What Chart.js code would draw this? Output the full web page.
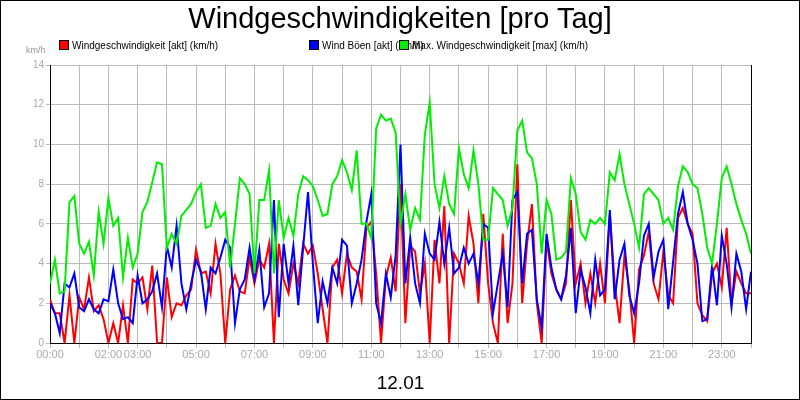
<!DOCTYPE html>
<html>
<head>
<meta charset="utf-8">
<script src="https://cdn.jsdelivr.net/npm/chart.js@4/dist/chart.umd.min.js"></script>
<style>
  html, body { margin: 0; padding: 0; background: #fff; }
  #wrap { position: relative; width: 798px; height: 398px; border: 1px solid #000; font-family: "Liberation Sans", Arial, sans-serif; }
  #title { position: absolute; left: 0; right: 0; top: 1px; text-align: center; font-size: 29px; }
  #legend { position: absolute; top: 39px; left: 58px; font-size: 10px; white-space: nowrap; }
  #legend span.box { display: inline-block; width: 8px; height: 8px; border: 1px solid #000; margin-right: 3px; vertical-align: -1px; }
  #legend .item { position: absolute; }
  #unit { position: absolute; left: 25px; top: 44px; font-size: 9px; color: #999; }
  canvas { position: absolute; left: 0; top: 0; }
</style>
</head>
<body>
<div id="wrap">
  <canvas id="c" width="798" height="398"></canvas>
  <div id="title">Windgeschwindigkeiten [pro Tag]</div>
  <div id="unit">km/h</div>
  <div id="legend"></div>
</div>
<script>
// 10-Minuten-Werte, 00:00 .. 24:00
const stepMinutes = 10;
const seriesNames = ["Windgeschwindigkeit [akt] (km/h)", "Wind Böen [akt] (km/h)", "Max. Windgeschwindigkeit [max] (km/h)"];
const seriesColors = ["#ff0000", "#0000ff", "#00ee00"];
const xTickHours = [0, 2, 3, 5, 7, 9, 11, 13, 15, 17, 19, 21, 23];
const yTicks = [0, 2, 4, 6, 8, 10, 12, 14];
const dayLabel = "12.01";

const windAkt = [
  2.2,1.5,1.5,0,2.4,0, 2.3,1.7,3.3,1.6,1.9,1.2, 0,1.0,0,1.9,0,3.2,
  3.0,3.3,1.7,3.9,0,0, 3.3,1.3,2.0,1.9,2.4,2.7, 4.7,3.5,3.6,2.5,5.0,3.5,
  0,2.7,3.4,2.6,2.5,4.3, 3.0,4.2,3.8,5.0,0,5.0, 3.2,2.5,4.0,3.0,5.0,4.5,
  4.9,3.5,1.7,0,3.8,4.2, 2.5,4.5,3.8,3.6,2.2,5.8, 6.1,3.5,0,3.3,4.3,2.6,
  8.0,1.0,4.9,4.6,2.5,4.0, 0,5.2,3.0,6.9,0,4.5, 4.0,3.0,6.4,5.0,2.0,6.5,
  3.0,1.0,0,5.5,1.0,3.0, 9.0,2.0,5.0,7.0,2.0,0, 5.2,3.5,2.7,2.2,3.0,7.2,
  3.0,4.0,2.0,3.5,2.0,4.0, 2.0,6.5,3.0,1.0,4.4,2.7, 0,3.7,4.4,5.6,3.0,2.2,
  4.6,2.4,2.0,6.3,6.8,6.0, 5.5,2.0,1.4,1.1,3.5,4.0, 2.8,5.8,2.0,3.6,3.0,2.5,
  2.5
];
const windBoeen = [
  2.0,1.5,0.5,3.0,2.8,3.5, 1.8,1.6,2.2,1.7,1.5,2.2, 2.1,3.7,2.0,1.2,1.3,1.0,
  3.4,2.0,2.2,2.6,3.5,1.8, 4.9,3.8,5.9,3.0,1.7,3.0, 4.2,3.6,1.7,3.8,3.5,4.3,
  5.2,4.8,1.0,2.7,3.2,4.8, 3.2,4.7,1.8,2.5,7.2,1.3, 5.0,3.0,4.9,1.9,4.8,7.6,
  4.0,1.0,3.1,2.0,3.8,3.0, 5.2,4.9,2.0,3.0,4.2,6.1, 7.5,2.0,1.0,3.5,2.3,4.4,
  10.0,3.0,5.3,3.0,2.0,5.5, 4.5,4.2,6.1,4.0,5.8,3.5, 3.8,4.8,4.0,4.5,3.0,6.0,
  5.8,1.5,3.0,4.5,1.8,7.2, 7.6,3.0,5.5,5.7,2.2,0.8, 5.5,3.8,2.7,2.2,3.4,5.8,
  1.5,3.7,2.8,1.5,4.2,2.4, 2.7,6.7,2.2,4.2,5.0,2.4, 1.5,3.0,5.4,6.0,3.3,4.6,
  5.2,1.7,4.1,6.5,7.6,6.0, 5.2,4.0,1.1,1.2,3.9,1.9, 5.4,4.0,1.8,4.5,3.6,1.7,
  3.6
];
const windMax = [
  3.0,4.2,2.5,2.6,7.1,7.4, 5.0,4.5,5.1,3.4,6.6,5.0, 7.3,5.9,6.3,3.3,5.3,3.8,
  4.5,6.6,7.1,8.1,9.1,9.0, 4.8,5.5,5.0,6.4,6.7,7.0, 7.6,8.0,5.8,5.9,7.0,6.3,
  6.6,3.8,6.0,8.3,8.0,7.5, 3.5,7.2,7.2,8.7,3.5,7.2, 5.3,6.3,5.4,7.5,8.4,8.2,
  7.9,7.2,6.4,6.5,8.0,8.4, 9.2,8.6,7.7,9.7,6.0,6.0, 5.3,10.8,11.5,11.2,11.3,10.6,
  6.0,7.5,5.7,6.8,6.2,10.5, 12.1,8.0,6.8,8.4,7.0,6.5, 9.8,8.5,7.8,9.7,8.0,5.2,
  5.2,7.8,7.5,7.2,5.9,6.8, 10.7,11.2,9.6,9.3,8.0,4.5, 7.2,6.5,4.2,4.3,4.6,8.3,
  7.5,5.6,5.2,6.2,6.0,6.3, 6.0,8.6,8.2,9.5,8.0,7.0, 6.0,4.8,7.5,7.8,7.5,7.2,
  6.0,6.3,5.7,7.9,8.9,8.6, 8.0,7.8,6.5,4.8,4.0,6.0, 8.3,8.9,8.0,7.0,6.2,5.5,
  4.5
];

function toPoints(values) {
  return values.map((v, i) => ({ x: (i * stepMinutes) / 60, y: v }));
}

function pad(h) {
  return (h < 10 ? "0" : "") + h + ":00";
}

// Legende als HTML
const legendEl = document.getElementById("legend");
const legendOffsets = [0, 250, 340];
seriesNames.forEach((name, i) => {
  const item = document.createElement("div");
  item.className = "item";
  item.style.left = legendOffsets[i] + "px";
  item.innerHTML = `<span class="box" style="background:${seriesColors[i]}"></span>${name}`;
  legendEl.appendChild(item);
});

const frame = {
  id: "frame",
  afterDraw(chart) {
    const { ctx, chartArea: a } = chart;
    ctx.save();
    ctx.strokeStyle = "#000";
    ctx.lineWidth = 1;
    ctx.beginPath();
    ctx.moveTo(a.right + 0.5, a.top);
    ctx.lineTo(a.right + 0.5, a.bottom);
    ctx.stroke();
    ctx.restore();
  },
};

new Chart(document.getElementById("c"), {
  type: "line",
  data: {
    datasets: [
      { label: seriesNames[2], data: toPoints(windMax), borderColor: seriesColors[2] },
      { label: seriesNames[1], data: toPoints(windBoeen), borderColor: seriesColors[1] },
      { label: seriesNames[0], data: toPoints(windAkt), borderColor: seriesColors[0] },
    ].map((d) => ({ ...d, borderWidth: 2, pointRadius: 0, tension: 0, fill: false })),
  },
  options: {
    responsive: false,
    animation: false,
    layout: { padding: { top: 64, right: 48, left: 0, bottom: 0 } },
    plugins: { legend: { display: false }, tooltip: { enabled: false } },
    scales: {
      x: {
        type: "linear",
        min: 0,
        max: 24,
        afterFit: (s) => { s.height = 56; },
        afterBuildTicks: (s) => { s.ticks = Array.from({ length: 25 }, (_, h) => ({ value: h })); },
        grid: { color: "#bbbbbb", tickLength: 5, tickColor: "#bbbbbb" },
        border: { color: "#000", width: 1 },
        ticks: {
          color: "#aaaaaa",
          font: { size: 11, family: "Liberation Sans" },
          maxRotation: 0,
          autoSkip: false,
          padding: 0,
          callback: (v) => (xTickHours.includes(v) ? pad(v) : ""),
        },
        title: { display: true, text: dayLabel, color: "#000", font: { size: 19, family: "Liberation Sans" }, padding: { top: 6 } },
      },
      y: {
        min: 0,
        max: 14,
        afterFit: (s) => { s.width = 49; },
        afterBuildTicks: (s) => { s.ticks = yTicks.map((v) => ({ value: v })); },
        grid: { color: "#bbbbbb", tickLength: 4, tickColor: "#bbbbbb" },
        border: { color: "#000", width: 1 },
        ticks: { color: "#aaaaaa", font: { size: 10, family: "Liberation Sans" }, padding: 2 },
      },
    },
  },
  plugins: [frame],
});
</script>
</body>
</html>
